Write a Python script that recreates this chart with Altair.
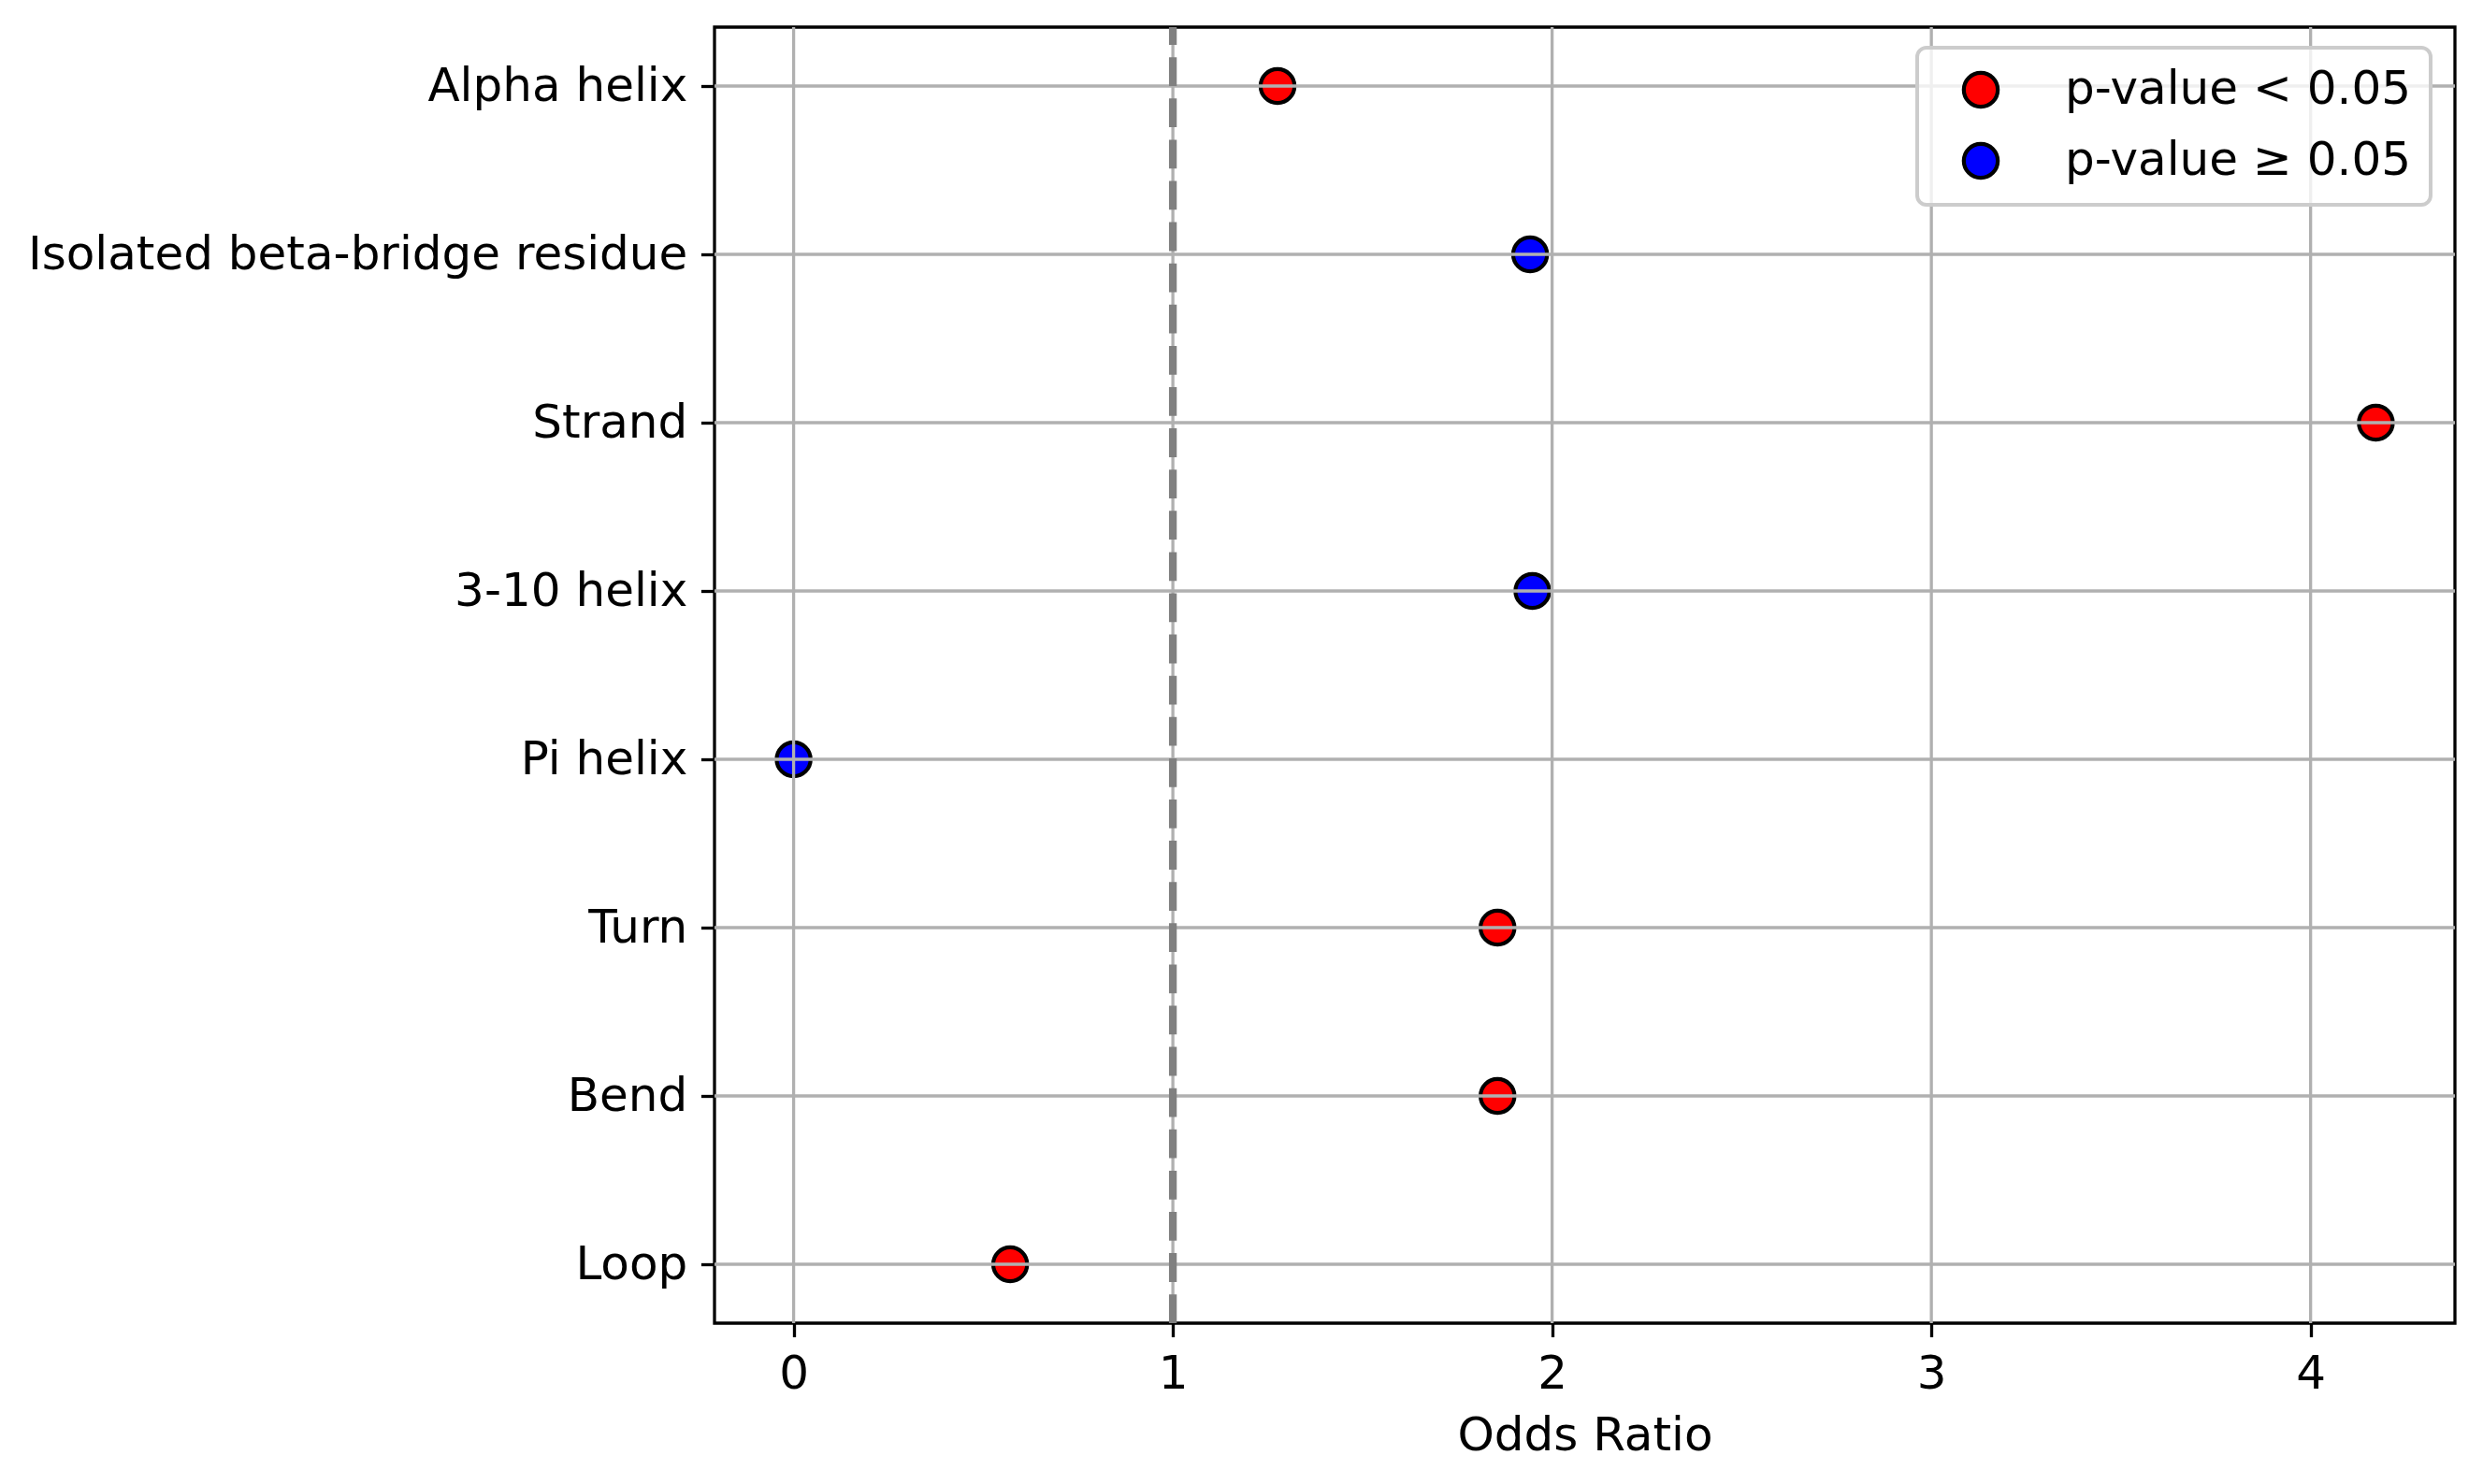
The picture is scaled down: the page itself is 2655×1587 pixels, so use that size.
import altair as alt
import pandas as pd

categories = ["Alpha helix", "Isolated beta-bridge residue", "Strand", "3-10 helix",
              "Pi helix", "Turn", "Bend", "Loop"]
odds_ratio = [1.276, 1.942, 4.172, 1.948, 0.0, 1.856, 1.856, 0.571]
significant = [True, False, True, False, False, True, True, True]
x_ticks = [0, 1, 2, 3, 4]
ref_line = [1]
legend_labels = ["p-value < 0.05", "p-value \u2265 0.05"]
legend_colors = ["red", "blue"]

df = pd.DataFrame({
    "category": categories,
    "odds": odds_ratio,
    "sig": [legend_labels[0] if s else legend_labels[1] for s in significant],
})
xt = pd.DataFrame({"t": x_ticks})
rl = pd.DataFrame({"r": ref_line})

W, H = 1861, 1386
xmax = max(odds_ratio)
xdom = [-0.05 * xmax, xmax * 1.05]
xscale = alt.Scale(domain=xdom, nice=False, zero=False)
yscale = alt.Scale(type="point", padding=0.35, domain=categories)

points = alt.Chart(df).mark_circle(size=1320, stroke="black", strokeWidth=4.2, opacity=1).encode(
    x=alt.X("odds:Q", scale=xscale,
            axis=alt.Axis(values=x_ticks, title="Odds Ratio", format="d", titlePadding=16)),
    y=alt.Y("category:N", scale=yscale, sort=categories, title=None),
    color=alt.Color("sig:N",
                    scale=alt.Scale(domain=legend_labels, range=legend_colors),
                    legend=alt.Legend(title=None, orient="none", legendX=1286, legendY=22,
                                      padding=20, symbolOffset=23, labelOffset=65,
                                      rowPadding=22, symbolType="circle", symbolSize=1320,
                                      symbolStrokeColor="black", symbolStrokeWidth=4.2,
                                      labelFontSize=50, labelFont="DejaVu Sans",
                                      labelColor="black", labelLimit=1000,
                                      strokeColor="#cccccc",
                                      fillColor="rgba(255,255,255,0.8)", cornerRadius=10)),
)

xgrid = alt.Chart(xt).mark_rule(color="#b0b0b0", strokeWidth=3.3).encode(
    x=alt.X("t:Q", scale=xscale)
)
ygrid = alt.Chart(df).mark_rule(color="#b0b0b0", strokeWidth=3.3).encode(
    y=alt.Y("category:N", scale=yscale, sort=categories)
)
ref = alt.Chart(rl).mark_rule(color="#808080", strokeWidth=8.3, strokeDash=[30.8, 13.3]).encode(
    x=alt.X("r:Q", scale=xscale),
    y=alt.value(H),
    y2=alt.value(0),
)

chart = alt.layer(points, xgrid, ygrid, ref).properties(
    width=W, height=H,
    autosize=alt.AutoSizeParams(type="none"),
    padding={"left": 756, "top": 21, "right": 20, "bottom": 160},
).configure_view(
    stroke="black", strokeWidth=3.3
).configure_legend(
    strokeWidth=4
).configure_axis(
    labelFont="DejaVu Sans", labelFontSize=50, labelColor="black", labelLimit=2000,
    titleFont="DejaVu Sans", titleFontSize=50, titleFontWeight="normal", titleColor="black",
    tickColor="black", tickWidth=3.3, tickSize=14.6, labelPadding=14.6,
    domain=False, grid=False,
)

chart.save("out.html", embed_options={"renderer": "svg", "actions": False})
